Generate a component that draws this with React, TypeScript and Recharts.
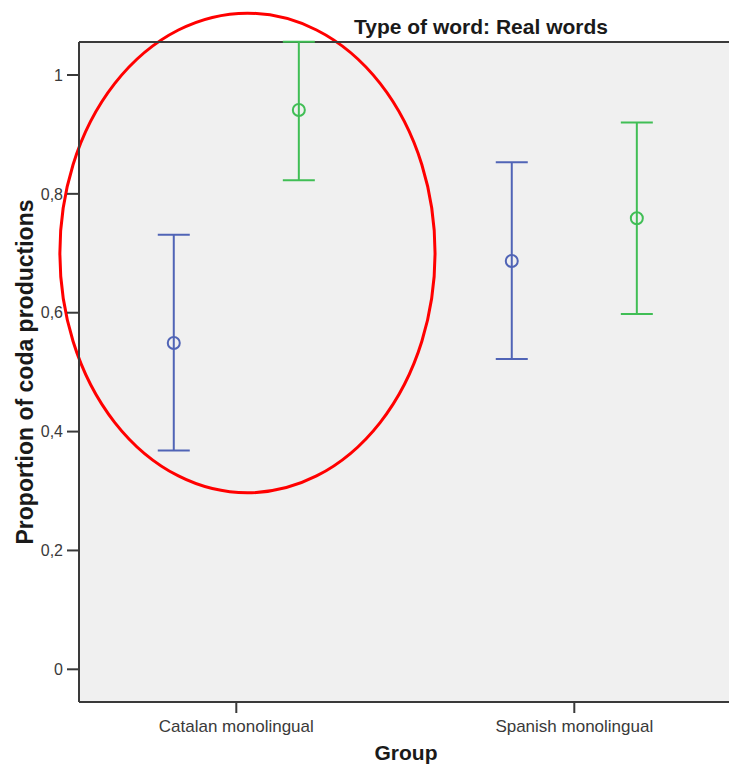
import {
  ComposedChart,
  CartesianGrid,
  ErrorBar,
  ReferenceArea,
  ReferenceLine,
  Scatter,
  XAxis,
  YAxis
} from "recharts";

const GROUPS = ["Catalan monolingual", "Spanish monolingual"];

// blue series (first word-type condition)
const BLUE_MEAN = [0.549, 0.687];
const BLUE_LOW = [0.368, 0.522];
const BLUE_HIGH = [0.731, 0.853];

// green series
const GREEN_MEAN = [0.941, 0.759];
const GREEN_LOW = [0.823, 0.598];
const GREEN_HIGH = [1.056, 0.92];

const Y_TICKS = [0, 0.2, 0.4, 0.6, 0.8, 1];
const Y_DOMAIN: [number, number] = [-0.055, 1.0555];
const X_DOMAIN: [number, number] = [0.5346, 2.4577];
const GROUP_OFFSET = 0.185;

// red highlight ellipse around the Catalan group, in data units
const HIGHLIGHT = { x1: 0.478, x2: 1.588, y1: 0.297, y2: 1.104 };

const BLUE = "#5064b6";
const GREEN = "#40be55";
const FONT = "'Liberation Sans', Arial, sans-serif";

function buildSeries(mean: number[], low: number[], high: number[], side: number) {
  return GROUPS.map((name, i) => ({
    name,
    x: i + 1 + side * GROUP_OFFSET,
    y: mean[i],
    err: [mean[i] - low[i], high[i] - mean[i]]
  }));
}

const blueData = buildSeries(BLUE_MEAN, BLUE_LOW, BLUE_HIGH, -1);
const greenData = buildSeries(GREEN_MEAN, GREEN_LOW, GREEN_HIGH, 1);

function hollowDot(color: string) {
  return (props: any) => (
    <circle cx={props.cx} cy={props.cy} r={6} fill="none" stroke={color} strokeWidth={2} />
  );
}

function Ellipse(props: any) {
  const { x, y, width, height } = props;
  return (
    <ellipse
      cx={x + width / 2}
      cy={y + height / 2}
      rx={Math.abs(width) / 2}
      ry={Math.abs(height) / 2}
      fill="none"
      stroke="#ff0000"
      strokeWidth={3}
    />
  );
}

export default function App() {
  return (
    <div style={{ position: "absolute", left: 0, top: 0, width: 729, height: 766, background: "#fff", overflow: "hidden" }}>
      <ComposedChart width={729} height={766} margin={{ top: 42, right: 0, bottom: 0, left: 0 }}>
        <CartesianGrid horizontal={false} vertical={false} fill="#f0f0f0" />
        <XAxis
          type="number"
          dataKey="x"
          domain={X_DOMAIN}
          ticks={[1, 2]}
          tickFormatter={(v: number) => GROUPS[v - 1] ?? ""}
          height={64}
          tickSize={11}
          tickMargin={7}
          axisLine={{ stroke: "#3a3a3a", strokeWidth: 2 }}
          tickLine={{ stroke: "#3a3a3a", strokeWidth: 2 }}
          tick={{ fill: "#3a3a3a", fontSize: 17, fontFamily: FONT }}
          allowDataOverflow
        />
        <YAxis
          type="number"
          dataKey="y"
          domain={Y_DOMAIN}
          ticks={Y_TICKS}
          tickFormatter={(v: number) => String(v).replace(".", ",")}
          width={79}
          tickSize={12}
          tickMargin={4}
          axisLine={{ stroke: "#3a3a3a", strokeWidth: 2 }}
          tickLine={{ stroke: "#3a3a3a", strokeWidth: 2 }}
          tick={{ fill: "#3a3a3a", fontSize: 16, fontFamily: FONT }}
          allowDataOverflow
        />
        <ReferenceLine y={Y_DOMAIN[1]} stroke="#3a3a3a" strokeWidth={2} />
        <Scatter data={blueData} shape={hollowDot(BLUE)} isAnimationActive={false}>
          <ErrorBar dataKey="err" direction="y" width={16} stroke={BLUE} strokeWidth={2} isAnimationActive={false} />
        </Scatter>
        <Scatter data={greenData} shape={hollowDot(GREEN)} isAnimationActive={false}>
          <ErrorBar dataKey="err" direction="y" width={16} stroke={GREEN} strokeWidth={2} isAnimationActive={false} />
        </Scatter>
        <ReferenceArea
          x1={HIGHLIGHT.x1}
          x2={HIGHLIGHT.x2}
          y1={HIGHLIGHT.y1}
          y2={HIGHLIGHT.y2}
          ifOverflow="visible"
          shape={Ellipse}
        />
      </ComposedChart>
      <svg width={729} height={766} style={{ position: "absolute", left: 0, top: 0, pointerEvents: "none" }}>
        <text x={354} y={34} fontFamily={FONT} fontWeight="bold" fontSize={21} fill="#1a1a1a">
          Type of word: Real words
        </text>
        <text
          x={33}
          y={372}
          transform="rotate(-90 33 372)"
          textAnchor="middle"
          fontFamily={FONT}
          fontWeight="bold"
          fontSize={23}
          fill="#1a1a1a"
        >
          Proportion of coda productions
        </text>
        <text x={406} y={760} textAnchor="middle" fontFamily={FONT} fontWeight="bold" fontSize={21} fill="#1a1a1a">
          Group
        </text>
      </svg>
    </div>
  );
}
